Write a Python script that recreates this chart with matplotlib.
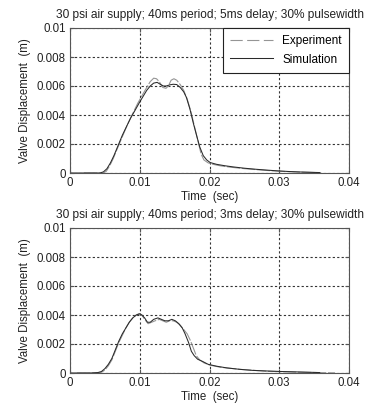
import matplotlib
matplotlib.use("Agg")
import matplotlib.pyplot as plt

plt.rcParams['font.family'] = ['Liberation Sans', 'DejaVu Sans']

# Case 1: 5 ms delay
t_sim1 = [0.0, 0.0043, 0.0048, 0.0053, 0.0058, 0.0063, 0.0069, 0.0075, 0.0081, 0.0087,
          0.0093, 0.0100, 0.0105, 0.0110, 0.0115, 0.0120, 0.0125, 0.0130, 0.0134, 0.0138,
          0.0143, 0.0148, 0.0153, 0.0158, 0.0163, 0.0167, 0.0172, 0.0177, 0.0182, 0.0186,
          0.0191, 0.0196, 0.0201, 0.0210, 0.0222, 0.0234, 0.0250, 0.0266, 0.0282, 0.0300,
          0.0315, 0.0330, 0.0358]
y_sim1 = [0.0, 0.0, 0.00008, 0.0003, 0.0007, 0.0012, 0.0019, 0.0026, 0.0032, 0.0038,
          0.0043, 0.0049, 0.0053, 0.0057, 0.0060, 0.0062, 0.00625, 0.0061, 0.0060, 0.0060,
          0.00608, 0.00612, 0.0061, 0.0059, 0.0056, 0.0052, 0.0044, 0.0034, 0.0025, 0.0018,
          0.0012, 0.0009, 0.00072, 0.0006, 0.0005, 0.00042, 0.00033, 0.00026, 0.0002, 0.00014,
          0.0001, 0.00007, 0.00003]
t_exp1 = [0.0020, 0.0048, 0.0052, 0.0057, 0.0062, 0.0068, 0.0075, 0.0082, 0.0090, 0.0097,
          0.0104, 0.0110, 0.0115, 0.0120, 0.0124, 0.0128, 0.0133, 0.01376, 0.0141, 0.0145,
          0.0149, 0.0153, 0.0158, 0.0163, 0.0168, 0.0173, 0.0178, 0.0182, 0.0185, 0.0188,
          0.0192, 0.0198, 0.0205, 0.0215, 0.0230, 0.0250, 0.0270, 0.0290, 0.0310, 0.0330,
          0.0360]
y_exp1 = [0.0, 0.0, 0.00012, 0.0005, 0.0010, 0.0017, 0.0025, 0.0033, 0.0041, 0.0048,
          0.0054, 0.0059, 0.0063, 0.00654, 0.0065, 0.0063, 0.0059, 0.00584, 0.0060, 0.0064,
          0.0065, 0.0064, 0.0061, 0.0057, 0.0051, 0.0043, 0.0033, 0.0025, 0.0019, 0.0013,
          0.0009, 0.0007, 0.0006, 0.0005, 0.0004, 0.0003, 0.00022, 0.00015, 0.0001, 0.00006,
          0.00002]

# Case 2: 3 ms delay
t_sim2 = [0.0, 0.0029, 0.0040, 0.0045, 0.0050, 0.0055, 0.0060, 0.0065, 0.0070, 0.0075,
          0.0080, 0.0085, 0.0090, 0.0095, 0.0100, 0.0103, 0.0107, 0.0111, 0.0115, 0.0120,
          0.0126, 0.0131, 0.0136, 0.0141, 0.0146, 0.0151, 0.0156, 0.0161, 0.0165, 0.0170,
          0.0174, 0.0178, 0.0183, 0.0190, 0.0198, 0.0210, 0.0225, 0.0244, 0.0262, 0.0282,
          0.0305, 0.0330, 0.0358]
y_sim2 = [0.0, 0.0, 0.00003, 0.0001, 0.0003, 0.0006, 0.0010, 0.0016, 0.0022, 0.0027,
          0.0031, 0.0035, 0.0038, 0.0040, 0.00408, 0.0040, 0.0038, 0.0035, 0.0035, 0.0037,
          0.0038, 0.0037, 0.0036, 0.0036, 0.0037, 0.0036, 0.0034, 0.0031, 0.0027, 0.0021,
          0.0015, 0.0012, 0.00095, 0.0008, 0.0006, 0.00047, 0.00035, 0.00025, 0.00018, 0.00014,
          0.0001, 0.00007, 0.00003]
t_exp2 = [0.0010, 0.0035, 0.0045, 0.0050, 0.0055, 0.0060, 0.0065, 0.0070, 0.0075, 0.0080,
          0.0085, 0.0090, 0.0095, 0.0099, 0.0103, 0.0107, 0.0112, 0.0117, 0.0122, 0.0128,
          0.0133, 0.0138, 0.0143, 0.0148, 0.0153, 0.0158, 0.0163, 0.0168, 0.0173, 0.0177,
          0.0181, 0.0186, 0.0192, 0.0200, 0.0215, 0.0244, 0.0282, 0.0330, 0.0380]
y_exp2 = [0.0, 0.0, 0.00005, 0.0002, 0.0005, 0.0009, 0.0015, 0.0021, 0.0026, 0.0031,
          0.0035, 0.0038, 0.0040, 0.0041, 0.0040, 0.0037, 0.0034, 0.0035, 0.0036, 0.0037,
          0.0036, 0.0035, 0.0036, 0.0036, 0.0035, 0.0033, 0.0030, 0.0027, 0.0022, 0.0017,
          0.0012, 0.0009, 0.0007, 0.00055, 0.0004, 0.00025, 0.00012, 0.00005, 0.00001]

titles = ["30 psi air supply; 40ms period; 5ms delay; 30% pulsewidth",
          "30 psi air supply; 40ms period; 3ms delay; 30% pulsewidth"]
xticks = [0, 0.01, 0.02, 0.03, 0.04]
xticklabels = ["0", "0.01", "0.02", "0.03", "0.04"]
yticks = [0, 0.002, 0.004, 0.006, 0.008, 0.01]
yticklabels = ["0", "0.002", "0.004", "0.006", "0.008", "0.01"]

fig = plt.figure(figsize=(3.66, 4.07), dpi=100)
left, width, height = 70 / 366, 279 / 366, 145 / 407
ax1 = fig.add_axes([left, 1 - 173 / 407, width, height])
ax2 = fig.add_axes([left, 1 - 373 / 407, width, height])

cases = [(ax1, t_exp1, y_exp1, t_sim1, y_sim1, titles[0]),
         (ax2, t_exp2, y_exp2, t_sim2, y_sim2, titles[1])]

for i, (ax, te, ye, ts, ys, title) in enumerate(cases):
    ax.plot(te, ye, color="#959595", lw=0.8, linestyle=(0, (12, 1.5)), label="Experiment")
    ax.plot(ts, ys, color="#2a2a2a", lw=0.75, label="Simulation")
    ax.set_xlim(0, 0.04)
    ax.set_ylim(0, 0.01)
    ax.set_xticks(xticks)
    ax.set_xticklabels(xticklabels)
    ax.set_yticks(yticks)
    ax.set_yticklabels(yticklabels)
    ax.grid(True, color="#333333", linestyle=(0, (2, 2)), linewidth=0.8)
    ax.tick_params(direction="in", length=3, labelsize=8.3, top=True, right=True,
                   color="#555555", labelcolor="#222222", pad=3)
    for s in ax.spines.values():
        s.set_color("#555555")
        s.set_linewidth(0.8)
    ax.set_title(title, fontsize=8.6, color="#222222", pad=7)
    ax.set_xlabel("Time  (sec)", fontsize=8.3, color="#222222", labelpad=1)
    ax.set_ylabel("Valve Displacement  (m)", fontsize=8.3, color="#222222", labelpad=4)
    if i == 0:
        leg = ax.legend(loc="upper right", fontsize=8.5, frameon=True, fancybox=False,
                        borderaxespad=0, handlelength=3.6, borderpad=0.6,
                        labelspacing=0.55, handletextpad=0.8)
        leg.get_frame().set_edgecolor("#222222")
        leg.get_frame().set_linewidth(0.8)
        leg.get_frame().set_alpha(1)
        leg.get_lines()[0].set_linestyle((0, (11, 4)))

fig.savefig("out.png", dpi=100)
